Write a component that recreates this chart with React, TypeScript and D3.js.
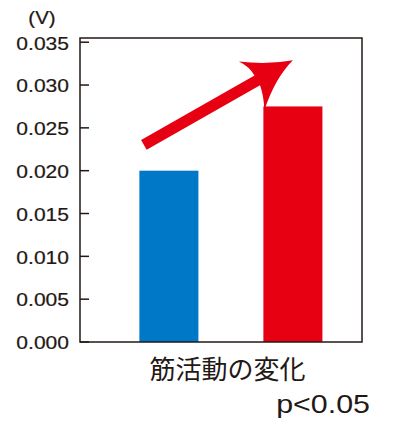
import * as d3 from "d3";

const categories = ["before", "after"];
const values = [0.02, 0.0275];
const barColors = ["#0078c8", "#e60012"];
const yTicks = [0, 0.005, 0.01, 0.015, 0.02, 0.025, 0.03, 0.035];
const unitLabel = "(V)";
const xLabel = "筋活動の変化";
const pLabel = "p<0.05";
// arrow annotation: from just above the blue bar up past the red bar
const arrowFrom = { cat: "before", offset: 4.5, value: 0.023 };
const arrowTo = { cat: "after", value: 0.0329 };

const W = 400;
const H = 431;
const frame = { left: 80, right: 362, top: 38, bottom: 342 };
const ink = "#231815";
const latin = "'Liberation Sans', Arial, sans-serif";
const stretch = 1.17;

export default function App() {
  const x = d3
    .scaleBand<string>()
    .domain(categories)
    .range([frame.left, frame.right])
    .paddingInner(0.524)
    .paddingOuter(0.399)
    .align(0.6);

  const y = d3.scaleLinear().domain([0, 0.035]).range([frame.bottom, 42.2]);
  const fmt = d3.format(".3f");

  const sx = (x(arrowFrom.cat) ?? 0) + arrowFrom.offset;
  const sy = y(arrowFrom.value);
  const tx = (x(arrowTo.cat) ?? 0) + x.bandwidth() / 2;
  const ty = y(arrowTo.value);
  const len = Math.hypot(tx - sx, ty - sy);
  const ang = (Math.atan2(ty - sy, tx - sx) * 180) / Math.PI;
  const hw = 5.6;
  const p = d3.path();
  p.moveTo(-len, -hw);
  p.lineTo(-41, -hw);
  p.quadraticCurveTo(-41, -16, -47.6, -25.5);
  p.quadraticCurveTo(-23.8, -8.2, 0, 0);
  p.quadraticCurveTo(-24.8, 6.8, -49.7, 29.6);
  p.quadraticCurveTo(-43, 17, -41, hw);
  p.lineTo(-len, hw);
  p.closePath();

  return (
    <svg
      width={W}
      height={H}
      style={{ position: "absolute", left: 0, top: 0, background: "#fff" }}
    >
      {categories.map((c, i) => (
        <rect
          key={c}
          x={x(c)}
          y={y(values[i])}
          width={x.bandwidth()}
          height={frame.bottom - y(values[i])}
          fill={barColors[i]}
        />
      ))}

      <path
        d={p.toString()}
        transform={`translate(${tx},${ty}) rotate(${ang})`}
        fill="#e60012"
      />

      <rect
        x={frame.left}
        y={frame.top}
        width={frame.right - frame.left}
        height={frame.bottom - frame.top}
        fill="none"
        stroke={ink}
        strokeWidth={1.5}
      />

      {yTicks.map((t) => (
        <g key={t}>
          <line
            x1={frame.left}
            x2={frame.left + 9}
            y1={y(t)}
            y2={y(t)}
            stroke={ink}
            strokeWidth={1.5}
          />
          <text
            transform={`translate(69,${y(t) + 7.3}) scale(${stretch},1)`}
            textAnchor="end"
            fontFamily={latin}
            fontSize={18}
            fill={ink}
            stroke={ink}
            strokeWidth={0.2}
          >
            {fmt(t)}
          </text>
        </g>
      ))}

      <text
        transform={`translate(42,23.5) scale(${stretch},1)`}
        textAnchor="middle"
        fontFamily={latin}
        fontSize={17.5}
        fill={ink}
        stroke={ink}
        strokeWidth={0.2}
      >
        {unitLabel}
      </text>

      <text
        x={227.5}
        y={379}
        textAnchor="middle"
        fontFamily="'Noto Sans CJK JP', sans-serif"
        fontSize={26}
        fill={ink}
      >
        {xLabel}
      </text>

      <text
        transform={`translate(370,413) scale(${stretch},1)`}
        textAnchor="end"
        fontFamily={latin}
        fontSize={26}
        fill={ink}
      >
        {pLabel}
      </text>
    </svg>
  );
}
